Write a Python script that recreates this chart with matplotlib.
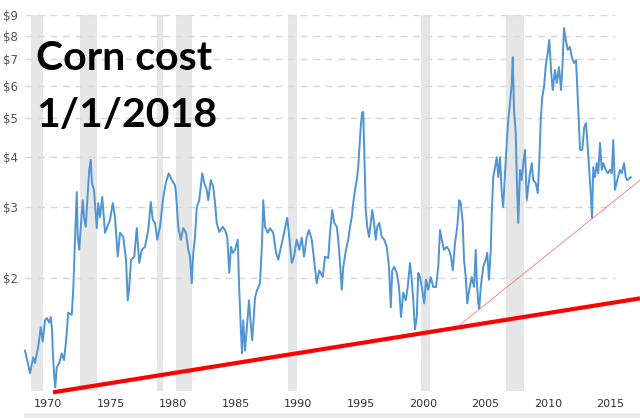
import matplotlib
matplotlib.use("Agg")
import matplotlib.pyplot as plt
from matplotlib.patches import Rectangle

# corn price (USD / bushel)
years = [1968.16, 1968.34, 1968.56, 1968.82, 1968.96, 1969.22, 1969.42, 1969.58, 1969.76, 1969.90,
         1970.10, 1970.22, 1970.32, 1970.38, 1970.50, 1970.58, 1970.70, 1970.90, 1971.10, 1971.28,
         1971.44, 1971.62, 1971.90, 1972.02, 1972.10, 1972.16, 1972.30, 1972.38, 1972.50, 1972.62,
         1972.78, 1972.88, 1973.02, 1973.18, 1973.30, 1973.42, 1973.52, 1973.68, 1973.90, 1974.02,
         1974.16, 1974.34, 1974.56, 1974.74, 1974.96, 1975.18, 1975.36, 1975.58, 1975.76, 1976.02,
         1976.24, 1976.38, 1976.50, 1976.64, 1976.90, 1977.10, 1977.30, 1977.50, 1977.76, 1978.02,
         1978.22, 1978.38, 1978.56, 1978.74, 1978.96, 1979.22, 1979.44, 1979.66, 1979.90, 1980.16,
         1980.24, 1980.42, 1980.62, 1980.82, 1981.04, 1981.22, 1981.36, 1981.50, 1981.62, 1981.76,
         1981.90, 1982.10, 1982.34, 1982.50, 1982.70, 1982.82, 1983.02, 1983.22, 1983.36, 1983.50,
         1983.70, 1983.98, 1984.16, 1984.34, 1984.50, 1984.64, 1984.78, 1984.96, 1985.18, 1985.28,
         1985.42, 1985.52, 1985.62, 1985.76, 1985.90, 1986.08, 1986.24, 1986.34, 1986.56, 1986.74,
         1986.96, 1987.12, 1987.22, 1987.36, 1987.58, 1987.76, 1988.02, 1988.24, 1988.42, 1988.64,
         1988.82, 1988.98, 1989.14, 1989.30, 1989.50, 1989.68, 1989.90, 1990.10, 1990.30, 1990.48,
         1990.70, 1990.88, 1991.10, 1991.28, 1991.50, 1991.70, 1991.98, 1992.16, 1992.42, 1992.56,
         1992.74, 1992.90, 1993.10, 1993.22, 1993.36, 1993.50, 1993.62, 1993.84, 1994.02, 1994.16,
         1994.30, 1994.42, 1994.56, 1994.70, 1994.82, 1994.90, 1995.02, 1995.12, 1995.22, 1995.30,
         1995.42, 1995.54, 1995.68, 1995.82, 1995.94, 1996.08, 1996.22, 1996.34, 1996.50, 1996.70,
         1996.90, 1997.10, 1997.28, 1997.42, 1997.54, 1997.70, 1997.90, 1998.08, 1998.24, 1998.42,
         1998.62, 1998.78, 1998.96, 1999.10, 1999.22, 1999.36, 1999.50, 1999.62, 1999.76, 1999.94,
         2000.10, 2000.24, 2000.42, 2000.62, 2000.82, 2001.04, 2001.22, 2001.36, 2001.50, 2001.68,
         2001.90, 2002.08, 2002.24, 2002.38, 2002.56, 2002.74, 2002.90, 2003.02, 2003.18, 2003.28,
         2003.42, 2003.54, 2003.70, 2003.90, 2004.08, 2004.22, 2004.30, 2004.42, 2004.50, 2004.62,
         2004.82, 2005.02, 2005.14, 2005.28, 2005.42, 2005.50, 2005.62, 2005.76, 2005.90, 2006.02,
         2006.16, 2006.30, 2006.42, 2006.56, 2006.70, 2006.82, 2006.96, 2007.10, 2007.18, 2007.28,
         2007.42, 2007.50, 2007.62, 2007.76, 2007.90, 2008.02, 2008.16, 2008.30, 2008.42, 2008.56,
         2008.70, 2008.82, 2009.02, 2009.18, 2009.30, 2009.42, 2009.54, 2009.68, 2009.84, 2009.98,
         2010.10, 2010.24, 2010.38, 2010.56, 2010.70, 2010.88, 2011.04, 2011.14, 2011.28, 2011.42,
         2011.58, 2011.76, 2011.90, 2012.08, 2012.24, 2012.34, 2012.46, 2012.56, 2012.74, 2012.90,
         2013.04, 2013.14, 2013.28, 2013.42, 2013.52, 2013.62, 2013.76, 2013.90, 2014.02, 2014.16,
         2014.30, 2014.42, 2014.62, 2014.78, 2014.96, 2015.10, 2015.22, 2015.36, 2015.54, 2015.76,
         2015.90, 2016.08, 2016.22, 2016.34, 2016.48, 2016.62]
prices = [1.32, 1.25, 1.16, 1.27, 1.23, 1.35, 1.51, 1.39, 1.57, 1.59,
          1.55, 1.60, 1.49, 1.32, 1.14, 1.07, 1.20, 1.23, 1.30, 1.25,
          1.39, 1.64, 1.62, 1.87, 2.22, 2.49, 3.27, 2.53, 2.35, 2.68,
          3.12, 2.83, 2.68, 3.25, 3.71, 3.93, 3.44, 3.31, 2.66, 3.07,
          2.83, 3.18, 2.59, 2.68, 2.79, 3.07, 2.83, 2.26, 2.59, 2.53,
          2.22, 1.76, 1.90, 2.22, 2.26, 2.66, 2.18, 2.35, 2.39, 2.63,
          3.09, 2.79, 2.74, 2.49, 2.68, 3.18, 3.46, 3.64, 3.50, 3.40,
          3.25, 2.68, 2.49, 2.66, 2.59, 2.35, 2.26, 1.94, 2.31, 2.53,
          3.00, 3.12, 3.64, 3.44, 3.31, 3.12, 3.50, 3.37, 3.07, 2.74,
          2.60, 2.68, 2.63, 2.53, 2.06, 2.39, 2.31, 2.35, 2.49, 1.94,
          1.51, 1.30, 1.57, 1.32, 1.49, 1.76, 1.51, 1.40, 1.79, 1.87,
          1.94, 2.44, 3.12, 2.68, 2.59, 2.66, 2.59, 2.31, 2.22, 2.39,
          2.53, 2.68, 2.82, 2.53, 2.18, 2.26, 2.49, 2.35, 2.52, 2.26,
          2.53, 2.63, 2.49, 2.22, 1.94, 2.09, 2.01, 2.26, 2.24, 2.59,
          2.95, 2.74, 2.68, 2.49, 2.18, 1.87, 2.13, 2.35, 2.49, 2.68,
          2.83, 3.07, 3.31, 3.50, 3.77, 4.16, 4.74, 5.14, 5.17, 4.16,
          2.95, 2.68, 2.53, 2.74, 2.95, 2.74, 2.49, 2.68, 2.74, 2.53,
          2.49, 2.39, 2.13, 1.69, 2.09, 2.13, 2.06, 1.90, 1.60, 1.84,
          1.76, 1.90, 2.18, 1.98, 1.76, 1.49, 1.60, 2.06, 2.01, 1.87,
          1.73, 1.98, 1.87, 2.01, 1.90, 1.90, 2.13, 2.63, 2.49, 2.35,
          2.39, 2.35, 2.26, 2.09, 2.44, 2.68, 3.12, 3.07, 2.74, 2.22,
          2.01, 1.73, 1.87, 2.01, 1.90, 2.35, 1.98, 1.73, 1.68, 1.90,
          2.13, 2.22, 2.31, 1.98, 2.35, 2.90, 3.56, 3.77, 3.99, 3.56,
          3.99, 3.25, 3.00, 3.64, 4.33, 4.94, 5.44, 6.10, 7.07, 5.23,
          4.58, 3.56, 2.74, 3.71, 3.50, 3.86, 4.16, 3.12, 3.37, 3.64,
          3.86, 3.50, 3.44, 3.25, 3.86, 4.94, 5.63, 5.96, 6.84, 7.24,
          7.80, 6.57, 5.86, 6.57, 6.10, 6.68, 5.86, 6.57, 8.35, 7.80,
          7.37, 7.50, 7.07, 6.84, 6.95, 5.96, 4.94, 4.16, 4.16, 4.74,
          4.85, 4.40, 3.77, 3.25, 2.82, 3.77, 3.56, 3.86, 3.64, 4.33,
          3.71, 3.86, 3.71, 3.64, 3.71, 3.64, 4.40, 3.31, 3.50, 3.71,
          3.64, 3.86, 3.56, 3.50, 3.53, 3.56]

# recession shading (as placed on the chart)
rec_start = [1968.64, 1972.56, 1978.72, 1980.24, 1989.20, 1999.84, 2006.62]
rec_end = [1969.60, 1973.92, 1979.20, 1981.52, 1989.92, 2000.56, 2008.08]

# hand-drawn support lines
long_trend_x = [1970.40, 2017.36]
long_trend_y = [1.04, 1.78]
short_trend_x = [2002.96, 2017.36]
short_trend_y = [1.53, 3.50]

ytick_vals = [2, 3, 4, 5, 6, 7, 8, 9]
xtick_vals = [1970, 1975, 1980, 1985, 1990, 1995, 2000, 2005, 2010, 2015]

W, H = 640, 418
fig = plt.figure(figsize=(6.4, 4.18), dpi=100)
ax = fig.add_axes([25 / W, 1 - 391 / H, 615 / W, 376 / H])
ax.set_yscale("log")
ax.set_xlim(1968.16, 2017.36)
ax.set_ylim(1.048, 9.0)

for a, b in zip(rec_start, rec_end):
    ax.axvspan(a, b, color="#e6e6e6", lw=0, zorder=0)

ax.hlines(ytick_vals, 1968.16, 2015.36, colors="#d8d8d8", linestyles=(0, (5, 4)),
          lw=1, zorder=1)

ax.plot(years, prices, color="#4f94d4", lw=1.4, zorder=3, clip_on=False)

ax.plot(short_trend_x, short_trend_y, color="#ff5555", lw=0.6, alpha=0.8, zorder=4, clip_on=False)
ax.plot(long_trend_x, long_trend_y, color="#ff0000", lw=3, zorder=5, clip_on=False,
        solid_capstyle="butt")

ax.set_yticks(ytick_vals)
ax.set_yticklabels(["$%d" % v for v in ytick_vals])
ax.minorticks_off()
ax.set_xticks(xtick_vals)
ax.set_xticklabels([str(v) for v in xtick_vals])
ax.tick_params(axis="y", length=0, pad=5, labelsize=8.5, labelcolor="#555555")
ax.tick_params(axis="x", length=0, pad=6, labelsize=8, labelcolor="#333333")
for s in ax.spines.values():
    s.set_visible(False)

fig.text(36 / W, 1 - 70 / H, "Corn cost", fontsize=29.5, fontweight="bold",
         family="Lato", va="baseline", color="black")
fig.text(36 / W, 1 - 127 / H, "1/1/2018", fontsize=29.5, fontweight="bold",
         family="Lato", va="baseline", color="black")

# navigator strip at the very bottom
fig.patches.append(Rectangle((24 / W, 0), 1, 5 / H, transform=fig.transFigure,
                             facecolor="#ececec", edgecolor="none"))

fig.savefig("out.png", dpi=100)
